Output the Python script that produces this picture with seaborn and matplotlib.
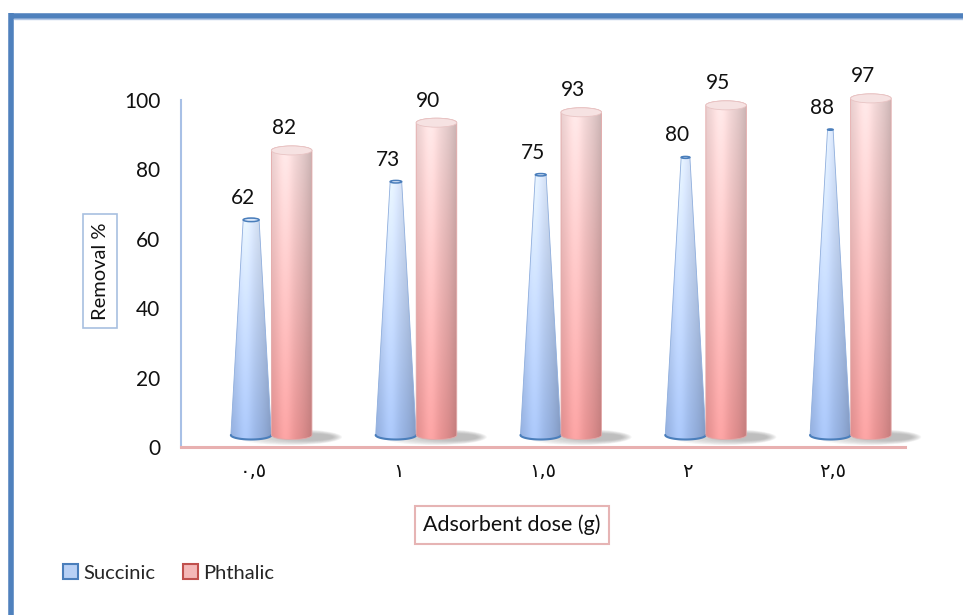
import numpy as np
import pandas as pd
import matplotlib
matplotlib.use("Agg")
import matplotlib.pyplot as plt
import seaborn as sns
from matplotlib.patches import Polygon, Ellipse, Patch
from matplotlib.lines import Line2D
from matplotlib.colors import to_rgb

# ---- data ----
dose_labels = ["٠,٥", "١", "١,٥", "٢", "٢,٥"]
succinic = [62, 73, 75, 80, 88]
phthalic = [82, 90, 93, 95, 97]
series_names = ["Succinic", "Phthalic"]

df = pd.DataFrame({
    "dose": dose_labels * 2,
    "removal": succinic + phthalic,
    "acid": [series_names[0]] * len(dose_labels) + [series_names[1]] * len(dose_labels),
})

sns.set_theme(style="white")
plt.rcParams["font.family"] = ["Lato", "DejaVu Sans"]

W, H = 963, 615
fig = plt.figure(figsize=(W / 100, H / 100), dpi=100)
ax_l, ax_r, ax_b, ax_t = 181, 905, 447, 100
ax = fig.add_axes([ax_l / W, 1 - ax_b / H, (ax_r - ax_l) / W, (ax_b - ax_t) / H])

palette = {"Succinic": "#A7C3F0", "Phthalic": "#F0A0A0"}
sns.barplot(data=df, x="dose", y="removal", hue="acid", order=dose_labels,
            hue_order=series_names, palette=palette, width=0.56, gap=0,
            legend=False, ax=ax)

ax.set_xlim(-0.5, len(dose_labels) - 0.5)
ax.set_ylim(0, 100)

# pixel -> data scale factors
px_x = (ax_r - ax_l) / len(dose_labels)
px_y = (ax_b - ax_t) / 100.0
depth_dx = 18 / px_x       # perspective shift of the bars
depth_dy = 12 / px_y
cap_h = 4.5 / px_y         # half-height of elliptic caps
apex = 102.0               # cone apex level


def gradient(c_bot, c_top, nx=60, ny=200, edge=0.18, hl=0.35):
    cb, ct = np.array(to_rgb(c_bot)), np.array(to_rgb(c_top))
    t = np.linspace(0, 1, ny)[:, None, None]
    base = cb * (1 - t) + ct * t
    u = np.linspace(0, 1, nx)[None, :, None]
    shade = 1 - edge * (np.abs(u - hl) / (1 - hl)) ** 2
    light = 0.06 * np.exp(-((u - hl) / 0.18) ** 2)
    return np.clip(base * shade + light, 0, 1)


def arc(xc, yc, a, b, t0, t1, n=40):
    t = np.linspace(t0, t1, n)
    return np.column_stack([xc + a * np.cos(t), yc + b * np.sin(t)])


cone_patches = list(ax.containers[0])
cyl_patches = list(ax.containers[1])
geo_cone = [(p.get_x() + p.get_width() / 2, p.get_width(), p.get_height()) for p in cone_patches]
geo_cyl = [(p.get_x() + p.get_width() / 2, p.get_width(), p.get_height()) for p in cyl_patches]
for p in cone_patches + cyl_patches:
    p.set_visible(False)

# floor shadows
for (xc1, w1, _), (xc2, w2, _) in zip(geo_cone, geo_cyl):
    left = xc1 - w1 / 2 + depth_dx + 0.05
    right = xc2 + w2 / 2 + depth_dx + 30 / px_x
    cx = (left + right) / 2
    for k in range(8):
        f = 1 - k * 0.08
        ax.add_patch(Ellipse((cx + 0.02 * k, depth_dy - 0.6), (right - left) * f,
                             (16 / px_y) * f, facecolor="#7f7f7f", edgecolor="none",
                             alpha=0.08, zorder=1, clip_on=False))

# cones
for xc, w, h in geo_cone:
    xc = xc + depth_dx
    hw = w / 2
    yb = depth_dy
    yt = h + depth_dy
    thw = hw * (1 - h / apex)
    tcap = cap_h * thw / hw
    pts = np.vstack([
        arc(xc, yb, hw, cap_h, np.pi, 2 * np.pi),
        arc(xc, yt, thw, tcap, 0, np.pi),
    ])
    poly = Polygon(pts, closed=True, facecolor="none", edgecolor="#8FAEDD",
                   lw=0.6, zorder=3, clip_on=False)
    ax.add_patch(poly)
    im = ax.imshow(gradient("#9DBAEC", "#DCE8FB"), extent=[xc - hw, xc + hw, yb - cap_h, yt + tcap],
                   origin="lower", aspect="auto", interpolation="bilinear", zorder=2.5)
    im.set_clip_path(poly)
    rim = arc(xc, yb, hw, cap_h, np.pi, 2 * np.pi)
    ax.plot(rim[:, 0], rim[:, 1], color="#4A7EBB", lw=1.5, zorder=3.2, clip_on=False,
            solid_capstyle="round")
    ax.add_patch(Ellipse((xc, yt), 2 * thw, 2 * tcap, facecolor="#DDE9FB",
                         edgecolor="#4A7EBB", lw=1.1, zorder=3.3, clip_on=False))

# cylinders
for xc, w, h in geo_cyl:
    xc = xc + depth_dx
    hw = w / 2
    yb = depth_dy
    yt = h + depth_dy
    pts = np.vstack([
        arc(xc, yb, hw, cap_h, np.pi, 2 * np.pi),
        arc(xc, yt, hw, cap_h, 0, np.pi),
    ])
    poly = Polygon(pts, closed=True, facecolor="none", edgecolor="#E3A7A7",
                   lw=0.6, zorder=4, clip_on=False)
    ax.add_patch(poly)
    im = ax.imshow(gradient("#EE9696", "#F6DCDC"), extent=[xc - hw, xc + hw, yb - cap_h, yt + cap_h],
                   origin="lower", aspect="auto", interpolation="bilinear", zorder=3.5)
    im.set_clip_path(poly)
    ax.add_patch(Ellipse((xc, yt), 2 * hw, 2 * cap_h, facecolor="#F6E2E2",
                         edgecolor="#E8C4C4", lw=0.6, zorder=4.2, clip_on=False))

# value labels
for (xc, w, h) in geo_cone + geo_cyl:
    ax.annotate(f"{h:g}", (xc, h), xytext=(10, 34), textcoords="offset pixels",
                ha="center", va="center", fontsize=15, color="#111111",
                annotation_clip=False, zorder=6)

ax.set_xlim(-0.5, len(dose_labels) - 0.5)
ax.set_ylim(0, 100)
ax.set_yticks(range(0, 101, 20))
ax.set_xlabel("")
ax.set_ylabel("")
ax.tick_params(axis="y", length=0, pad=15, labelsize=15, labelcolor="#111111")
ax.tick_params(axis="x", length=0, pad=11, labelsize=14, labelcolor="#111111")
for lab in ax.get_xticklabels():
    lab.set_fontfamily(["DejaVu Sans"])
for s in ["top", "right"]:
    ax.spines[s].set_visible(False)
ax.spines["left"].set_color("#A8C0E6")
ax.spines["left"].set_linewidth(1.5)
ax.spines["bottom"].set_color("#E8B0B0")
ax.spines["bottom"].set_linewidth(2.2)
ax.patch.set_alpha(0)

# axis titles in framed boxes
fig.text(100 / W, 1 - 271 / H, "Removal %", rotation=90, ha="center", va="center",
         fontsize=14.5, color="#111111",
         bbox=dict(boxstyle="square,pad=0.4", fc="white", ec="#A8C0E0", lw=1.2))
fig.text(512 / W, 1 - 525 / H, "Adsorbent dose (g)", ha="center", va="center",
         fontsize=15.5, color="#111111",
         bbox=dict(boxstyle="square,pad=0.4", fc="white", ec="#E6B4B4", lw=1.5))

# legend
handles = [
    Patch(facecolor="#B8D0F5", edgecolor="#4A7EBB", lw=1.5, label=series_names[0]),
    Patch(facecolor="#F4B8B8", edgecolor="#C0504D", lw=1.5, label=series_names[1]),
]
fig.legend(handles=handles, loc="center left", bbox_to_anchor=(55 / W, 1 - 573 / H),
           ncol=2, frameon=False, fontsize=14.5, handlelength=0.75, handleheight=0.75,
           handletextpad=0.25, columnspacing=1.4, borderaxespad=0)

# outer frame (left and top edges)
frame_c = "#4F81BD"
fig.add_artist(Line2D([10.5 / W, 10.5 / W], [0, 1 - 13 / H], color=frame_c, lw=4,
                      transform=fig.transFigure, solid_capstyle="butt"))
fig.add_artist(Line2D([8.5 / W, 1], [1 - 15.5 / H, 1 - 15.5 / H], color=frame_c, lw=4,
                      transform=fig.transFigure, solid_capstyle="butt"))
fig.add_artist(Line2D([14 / W, 1], [1 - 18.5 / H, 1 - 18.5 / H], color="#B4C8E6", lw=1,
                      transform=fig.transFigure))

fig.savefig("out.png", dpi=100)
